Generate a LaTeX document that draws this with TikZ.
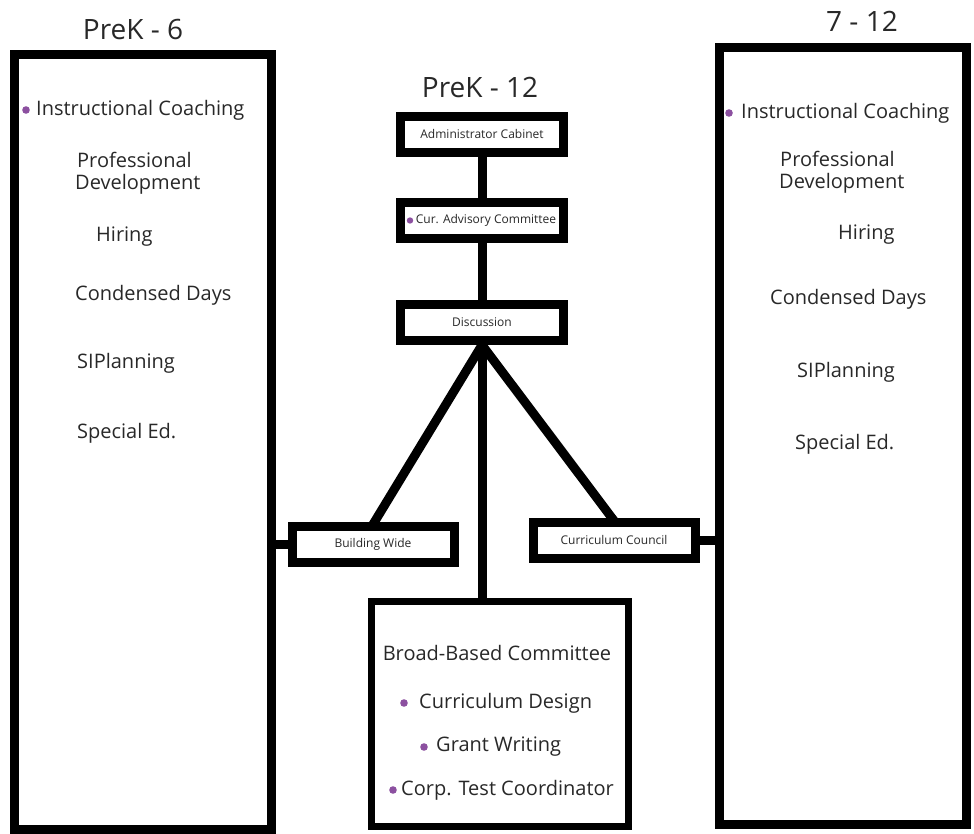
\documentclass[tikz,border=0pt]{standalone}
\usepackage{fontspec}
\setmainfont{Open Sans}
\usetikzlibrary{calc}
\definecolor{bul}{RGB}{140,80,160}
\definecolor{txt}{RGB}{40,40,40}
\tikzset{
 bigbox/.style={draw=black, line width=9pt, rectangle, inner sep=0pt},
 smallbox/.style={draw=black, fill=white, line width=9pt, rectangle, inner sep=0pt, minimum width=163pt, minimum height=36pt, font=\fontsize{12}{14}\selectfont, text=txt},
 conn/.style={line width=9pt},
 title/.style={font=\fontsize{28}{32}\selectfont, text=txt},
 item/.style={font=\fontsize{20}{24}\selectfont, text=txt, anchor=west, inner sep=0pt},
 dot/.style={fill=bul},
}
\begin{document}
\begin{tikzpicture}[x=1pt,y=-1pt]
\useasboundingbox (0,0) rectangle (974,834);
\fill[white] (0,0) rectangle (974,834);
% big boxes
\node[bigbox, minimum width=257pt, minimum height=775pt] (left) at (143,442) {};
\node[bigbox, minimum width=247pt, minimum height=777pt] (right) at (843,436) {};
\node[draw=black, line width=7pt, rectangle, inner sep=0pt, minimum width=257pt, minimum height=225pt] (broad) at (500,714) {};
% titles
\node[title] (t1) at (133,30) {PreK - 6};
\node[title] (t2) at (480,88) {PreK - 12};
\node[title] (t3) at (862,21) {7 - 12};
% small boxes
\node[smallbox] (admin) at (482,134.5) {Administrator Cabinet};
\node[smallbox] (cur) at (482,220.5) {\hspace{8pt}Cur. Advisory Committee};
\fill[dot] (410,220.5) circle (3.2);
\node[smallbox] (disc) at (482,322.5) {Discussion};
\node[smallbox, minimum width=162pt] (bw) at (373,544) {Building Wide};
\node[smallbox, minimum width=162pt] (cc) at (614,540) {Curriculum Council};
% connectors
\coordinate (bwtop) at (372,526);
\coordinate (cctop) at (615,522);
\draw[conn] (admin.south) -- (cur.north);
\draw[conn] (cur.south) -- (disc.north);
\draw[conn] (disc.south) -- (disc.south |- broad.north);
\draw[conn] (disc.south) -- (bwtop);
\draw[conn] (disc.south) -- (cctop);
\draw[conn] (left.east |- bw.west) -- (bw.west);
\draw[conn] (cc.east) -- (cc.east -| right.west);
% left texts
\fill[dot] (26,110) circle (3.8);
\node[item] (l1) at (36,110) {Instructional Coaching};
\node[item] (l2) at (77,160) {Professional};
\node[item] (l3) at (75,184) {Development};
\node[item] (l4) at (96,237) {Hiring};
\node[item] (l5) at (75,295) {Condensed Days};
\node[item] (l6) at (77,363) {SIPlanning};
\node[item] (l7) at (77,433) {Special Ed.};
% right texts
\fill[dot] (729,113) circle (3.8);
\node[item] (r1) at (741,113) {Instructional Coaching};
\node[item] (r2) at (780,159) {Professional};
\node[item] (r3) at (779,183) {Development};
\node[item] (r4) at (838,235) {Hiring};
\node[item] (r5) at (770,299) {Condensed Days};
\node[item] (r6) at (797,372) {SIPlanning};
\node[item] (r7) at (795,444) {Special Ed.};
% broad texts
\node[item, anchor=center] (b1) at (497,653) {Broad-Based Committee};
\fill[dot] (404,703) circle (3.8);
\node[item] (b2) at (419,703) {Curriculum Design};
\fill[dot] (424,747) circle (3.8);
\node[item] (b3) at (436,747) {Grant Writing};
\fill[dot] (393,790) circle (3.8);
\node[item] (b4) at (401,790) {Corp. Test Coordinator};
\end{tikzpicture}
\end{document}
